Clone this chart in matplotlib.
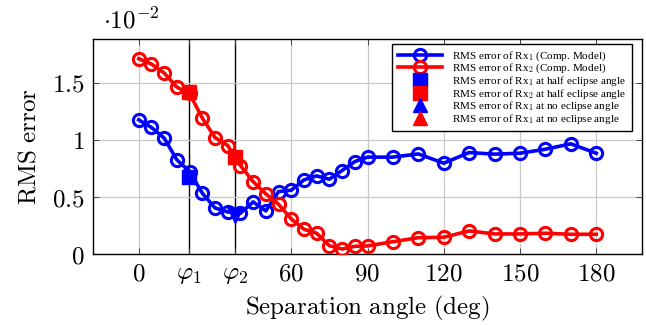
import matplotlib
matplotlib.use("Agg")
import matplotlib.pyplot as plt
from matplotlib.lines import Line2D

plt.rcParams["mathtext.fontset"] = "cm"
plt.rcParams["font.family"] = ["DejaVu Serif"]

# Separation angles (deg)
angles = [0, 5, 10, 15, 20, 25, 30, 35, 40, 45, 50, 55, 60, 65, 70, 75, 80, 85, 90,
          100, 110, 120, 130, 140, 150, 160, 170, 180]

# RMS error (x 1e-2)
rms_rx1 = [1.175, 1.108, 1.015, 0.825, 0.723, 0.534, 0.405, 0.370, 0.359, 0.458,
           0.379, 0.548, 0.560, 0.650, 0.685, 0.656, 0.732, 0.810, 0.849,
           0.849, 0.877, 0.796, 0.889, 0.875, 0.883, 0.918, 0.965, 0.883]
rms_rx2 = [1.709, 1.662, 1.584, 1.460, 1.405, 1.190, 1.020, 0.950, 0.775, 0.635,
           0.528, 0.437, 0.309, 0.219, 0.184, 0.075, 0.046, 0.070, 0.073,
           0.110, 0.145, 0.149, 0.204, 0.178, 0.178, 0.184, 0.175, 0.175]

# Characteristic angles
phi1 = 19.8   # half eclipse angle
phi2 = 37.9   # no eclipse angle
rx1_half, rx2_half = 0.679, 1.415
rx1_none, rx2_none = 0.345, 0.854

xtick_vals = [0, phi1, phi2, 60, 90, 120, 150, 180]
xtick_labels = [r"$0$", r"$\varphi_1$", r"$\varphi_2$", r"$60$", r"$90$",
                r"$120$", r"$150$", r"$180$"]
ytick_vals = [0, 0.5, 1.0, 1.5]
ytick_labels = [r"$0$", r"$0.5$", r"$1$", r"$1.5$"]

blue = "#0000ff"
red = "#ff0000"

fig = plt.figure(figsize=(6.46, 3.25), dpi=100)
ax = fig.add_axes([93 / 646, 1 - 254.3 / 325, 549 / 646, 215.3 / 325])

# special points (under the series)
ax.plot([phi1], [rx1_half], "s", color=blue, ms=10, zorder=3)
ax.plot([phi1], [rx2_half], "s", color=red, ms=10, zorder=3)
ax.plot([phi2], [rx1_none], "v", color=blue, ms=11, zorder=3)
ax.plot([phi2], [rx2_none], "s", color=red, ms=9.5, zorder=3)

ax.plot(angles, rms_rx1, "-o", color=blue, lw=2.6, ms=8.8, mew=2.2,
        mfc="none", zorder=4)
ax.plot(angles, rms_rx2, "-o", color=red, lw=2.6, ms=8.8, mew=2.2,
        mfc="none", zorder=4)

ax.set_xlim(-18, 198)
ax.set_ylim(0, 1.881)
ax.set_xticks(xtick_vals)
ax.set_xticklabels(xtick_labels)
ax.set_yticks(ytick_vals)
ax.set_yticklabels(ytick_labels)

ax.grid(True, color="#c8c8c8", lw=0.9, zorder=0)
for gl, v in zip(ax.get_xgridlines(), xtick_vals):
    if v in (phi1, phi2):
        gl.set_color("black")
        gl.set_linewidth(1.0)

ax.tick_params(direction="in", length=4, width=0.7, color="#444444",
               top=True, right=True, labelsize=18, pad=6)
for s in ax.spines.values():
    s.set_linewidth(1.0)

ax.set_xlabel(r"$\mathrm{Separation\ angle\ (deg)}$", fontsize=18, labelpad=6)
ax.set_ylabel(r"$\mathrm{RMS\ error}$", fontsize=18, labelpad=8)

ax.text(0.018, 1.025, r"$\cdot 10^{-2}$", transform=ax.transAxes,
        fontsize=18, ha="left", va="bottom")

handles = [
    Line2D([], [], color=blue, lw=2.6, marker="o", ms=8.8, mew=2.2, mfc="none"),
    Line2D([], [], color=red, lw=2.6, marker="o", ms=8.8, mew=2.2, mfc="none"),
    Line2D([], [], ls="none", color=blue, marker="s", ms=10),
    Line2D([], [], ls="none", color=red, marker="s", ms=10),
    Line2D([], [], ls="none", color=blue, marker="^", ms=10),
    Line2D([], [], ls="none", color=red, marker="^", ms=10),
]
labels = [
    r"RMS error of Rx$_1$ (Comp. Model)",
    r"RMS error of Rx$_2$ (Comp. Model)",
    r"RMS error of Rx$_1$ at half eclipse angle",
    r"RMS error of Rx$_2$ at half eclipse angle",
    r"RMS error of Rx$_1$ at no eclipse angle",
    r"RMS error of Rx$_1$ at no eclipse angle",
]
leg = ax.legend(handles, labels, loc="upper right",
                bbox_to_anchor=(0.981, 0.977), borderaxespad=0,
                prop={"family": "Liberation Serif", "size": 8},
                handlelength=4.0, labelspacing=-0.12, handletextpad=0.9,
                borderpad=0.5, fancybox=False, framealpha=1,
                edgecolor="black")
leg.get_frame().set_linewidth(1.0)
leg.set_zorder(10)

fig.savefig("out.png", dpi=100)
